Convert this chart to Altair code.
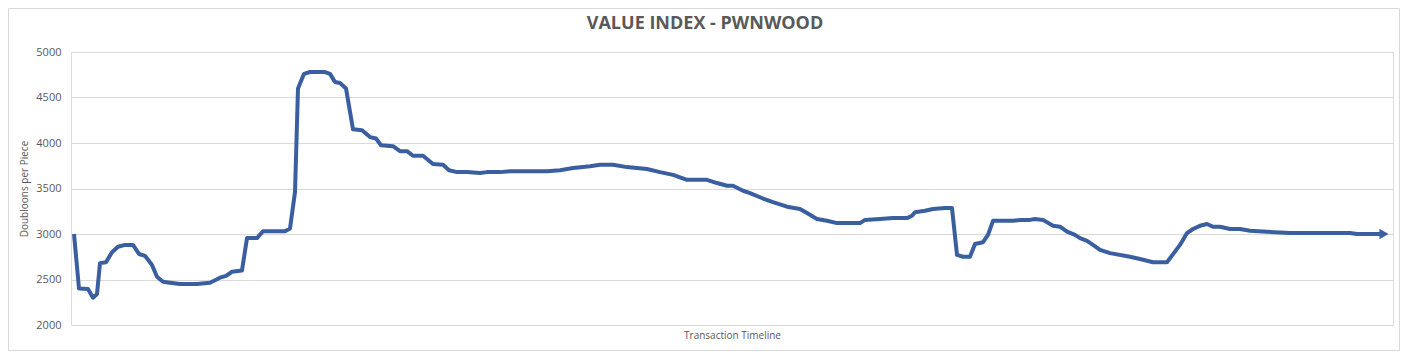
import altair as alt
import pandas as pd

# transaction step (timeline position) and value in doubloons per piece
steps = [0, 5, 14, 19, 23, 26, 32, 38, 44, 51, 59, 65, 71, 78, 83, 89, 96, 106, 123, 136,
         146, 152, 158, 168, 173, 183, 189, 211, 216, 221, 224, 230, 236, 251, 256, 261, 266, 272,
         279, 288, 296, 302, 307, 319, 326, 333, 339, 349, 359, 369, 375, 383, 393, 406, 413, 426,
         436, 473, 486, 499, 516, 526, 539, 553, 573, 586, 599, 613, 633, 643, 653, 659, 669, 676,
         689, 699, 713, 726, 733, 743, 753, 763, 786, 791, 806, 819, 833, 838, 841, 851, 859, 871,
         878, 883, 889, 896, 901, 909, 914, 919, 939, 946, 956, 961, 969, 979, 986, 993, 1001,
         1006, 1013, 1019, 1026, 1036, 1056, 1066, 1079, 1093, 1106, 1113, 1119, 1126, 1133,
         1139, 1146, 1156, 1166, 1176, 1193, 1216, 1276, 1283, 1310]
values = [3000, 2400, 2395, 2300, 2340, 2680, 2690, 2800, 2860, 2880, 2880, 2780, 2760, 2660,
          2530, 2475, 2465, 2450, 2450, 2465, 2520, 2540, 2585, 2600, 2955, 2955, 3030, 3030,
          3060, 3460, 4600, 4760, 4780, 4780, 4760, 4670, 4660, 4600, 4150, 4140, 4065, 4050,
          3975, 3965, 3910, 3910, 3860, 3860, 3770, 3760, 3700, 3680, 3680, 3670, 3680, 3680,
          3690, 3690, 3700, 3725, 3745, 3760, 3760, 3735, 3715, 3680, 3650, 3595, 3595, 3560,
          3530, 3530, 3475, 3450, 3390, 3350, 3300, 3275, 3230, 3165, 3145, 3120, 3120, 3155,
          3165, 3175, 3175, 3200, 3240, 3255, 3275, 3285, 3285, 2770, 2750, 2750, 2890, 2910,
          2990, 3145, 3145, 3155, 3155, 3165, 3155, 3090, 3080, 3025, 2990, 2955, 2925, 2880,
          2825, 2790, 2750, 2725, 2690, 2690, 2880, 3010, 3055, 3090, 3110, 3080, 3080, 3055,
          3055, 3035, 3025, 3010, 3010, 3000, 3000]

title_text = "VALUE INDEX - PWNWOOD"
y_title = "Doubloons per Piece"
x_title = "Transaction Timeline"
y_ticks = [2000, 2500, 3000, 3500, 4000, 4500, 5000]

df = pd.DataFrame({"step": steps, "value": values})
last = df.tail(1)

LINE = "#3A5FA0"
GRAY = "#595959"
FONT = "Open Sans"

W, H = 1322, 273
PAD = {"left": 63, "top": 44, "right": 7, "bottom": 26}

x = alt.X("step:Q", scale=alt.Scale(domain=[-3, 1319], nice=False, zero=False),
          axis=alt.Axis(labels=False, ticks=False, grid=False, domain=False,
                        title=x_title, titleFont=FONT, titleFontSize=10,
                        titleFontWeight="normal", titleColor=GRAY, titlePadding=5))
y = alt.Y("value:Q", scale=alt.Scale(domain=[2000, 5000], nice=False, zero=False),
          axis=alt.Axis(values=y_ticks, format="d", ticks=False, domain=False, grid=True,
                        gridColor="#D9D9D9", gridWidth=1, labelFont=FONT, labelFontSize=11,
                        labelColor=GRAY, labelPadding=10, title=y_title, titleFont=FONT,
                        titleFontSize=10, titleFontWeight="normal", titleColor=GRAY,
                        titlePadding=6))

line = alt.Chart(df).mark_line(color=LINE, strokeWidth=4, strokeJoin="round",
                               strokeCap="butt").encode(x=x, y=y)

arrow = alt.Chart(last).mark_point(shape="triangle-right", filled=True, color=LINE,
                                   opacity=1, size=110).encode(x="step:Q", y="value:Q")

border = alt.Chart(last).mark_rect(fill=None, stroke="#D9D9D9", strokeWidth=1).encode(
    x=alt.value(-62.5), x2=alt.value(1328.5), y=alt.value(-43.5), y2=alt.value(298.5))

chart = alt.layer(border, line, arrow).properties(
    width=W, height=H,
    padding=PAD,
    autosize=alt.AutoSizeParams(type="none"),
    title=alt.TitleParams(title_text, font=FONT, fontSize=18, fontWeight="bold",
                          color=GRAY, anchor="middle", dx=-27, offset=0, dy=25,
                          frame="group"),
).configure_view(stroke=None).configure(background="white")

chart.save("out.html", embed_options={"renderer": "svg", "actions": False})
